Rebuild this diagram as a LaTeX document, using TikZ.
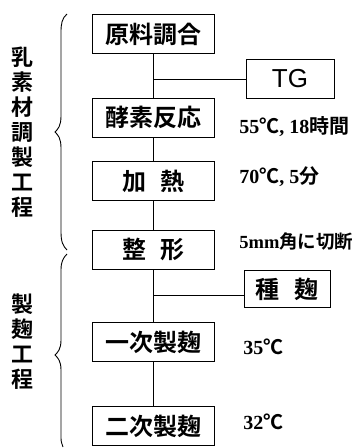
\documentclass[tikz,border=0pt]{standalone}
\usepackage{fontspec}
\newfontfamily\cjk{Noto Sans CJK JP}[BoldFont=* Bold]
\newfontfamily\ser{Liberation Serif}
\newfontfamily\tgfont{Liberation Sans}
\begin{document}
\begin{tikzpicture}[x=1pt,y=-1pt,line width=0.8pt,
  stepbox/.style={draw,minimum width=122pt,minimum height=39pt,inner sep=0pt,
    font=\cjk\bfseries\fontsize{24}{26}\selectfont},
  sidebox/.style={draw,minimum height=39pt,inner sep=0pt},
  note/.style={anchor=west,inner sep=0pt,font=\bfseries\fontsize{20}{22}\selectfont},
  vtext/.style={align=center,inner sep=0pt,font=\cjk\bfseries\fontsize{22}{25}\selectfont},
  brace/.style={line width=0.9pt}]
\useasboundingbox (0,0) rectangle (360,448);
% main boxes
\node[stepbox] (b1) at (153.5,34) {原料調合};
\node[stepbox] (b2) at (153.5,117.5) {酵素反応};
\node[stepbox] (b3) at (153.5,181) {加\hspace{0.6em}熱};
\node[stepbox] (b4) at (153.5,249.5) {整\hspace{0.6em}形};
\node[stepbox] (b5) at (153.5,342) {一次製麹};
\node[stepbox] (b6) at (153.5,426) {二次製麹};
% side boxes
\node[sidebox,minimum width=88pt,font=\tgfont\fontsize{26}{28}\selectfont] (tg) at (290,79) {TG};
\node[sidebox,minimum width=86pt,minimum height=37pt,font=\cjk\bfseries\fontsize{24}{26}\selectfont] (tane) at (287,289) {種\hspace{0.6em}麹};
% connectors
\draw (b1) -- (b2);
\draw (b2) -- (b3);
\draw (b3) -- (b4);
\draw (b4) -- (b5);
\draw (b5) -- (b6);
\coordinate (j1) at (153.5,79);
\coordinate (j2) at (153.5,295);
\draw (j1) -- (j1 -| tg.west);
\draw (j2) -- (j2 -| tane.west);
% notes
\node[note] (n2) at (239,127) {\ser 55{\cjk ℃}, 18{\cjk 時間}};
\node[note] (n3) at (239,177) {\ser 70{\cjk ℃}, 5{\cjk 分}};
\node[note,font=\bfseries\fontsize{18.5}{20}\selectfont] (n4) at (239,241) {\ser 5mm{\cjk 角に切断}};
\node[note] (n5) at (243,347) {\ser 35{\cjk ℃}};
\node[note] (n6) at (243,422) {\ser 32{\cjk ℃}};
% braces
\draw[brace] (67,14) .. controls (62,18) and (61,24) .. (61,32)
  -- (61,116) .. controls (61,126) and (58,129) .. (55,132)
  .. controls (58,135) and (61,138) .. (61,148)
  -- (61,232) .. controls (61,242) and (63,246) .. (67,250);
\draw[brace] (67,254) .. controls (63,258) and (61,262) .. (61,270)
  -- (61,340) .. controls (61,349) and (58,352) .. (55,355)
  .. controls (58,358) and (61,361) .. (61,370)
  -- (61,438) .. controls (61,442) and (62,444) .. (63,447);
% side labels
\node[vtext] (l1) at (23,132.5) {乳\\素\\材\\調\\製\\工\\程};
\node[vtext] (l2) at (23,342) {製\\麹\\工\\程};
\end{tikzpicture}
\end{document}
